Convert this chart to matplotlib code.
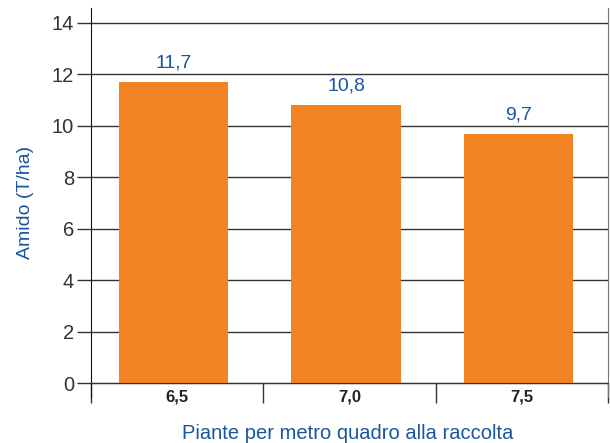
import matplotlib
matplotlib.use("Agg")
import matplotlib.pyplot as plt
from matplotlib import font_manager

# data
densita = ["6,5", "7,0", "7,5"]
amido = [11.7, 10.8, 9.7]
valori_txt = ["11,7", "10,8", "9,7"]
y_ticks = [0, 2, 4, 6, 8, 10, 12, 14]

names = {f.name for f in font_manager.fontManager.ttflist}
font = "Liberation Sans Narrow" if "Liberation Sans Narrow" in names else "Liberation Sans"
plt.rcParams['font.family'] = [font, 'DejaVu Sans']

arancio = '#f28322'
blu = '#1b55a0'
grigio = '#333333'

fig = plt.figure(figsize=(6.10, 4.43), dpi=100)
ax = fig.add_axes([0.149, 0.1038, 0.848, 0.878])

x = [i - 0.02 for i in range(len(densita))]
ax.bar(x, amido, width=0.635, color=arancio, zorder=2)

for xi, v, t in zip(x, amido, valori_txt):
    ax.text(xi, v + 0.4, t, ha='center', va='bottom', color=blu, fontsize=14)

ax.set_xlim(-0.5, len(densita) - 0.5)
ax.set_ylim(-0.545, 14.58)

ax.set_yticks(y_ticks)
ax.set_yticklabels([str(v) for v in y_ticks], fontsize=14.5, color='#333333')
ax.tick_params(axis='y', length=10, width=1, color=grigio, pad=2)
ax.yaxis.grid(True, color=grigio, linewidth=1)
ax.set_axisbelow(True)

# bottom axis line at zero, separators between categories
ax.spines['bottom'].set_position(('data', 0))
ax.spines['bottom'].set_color(grigio)
ax.spines['top'].set_visible(False)
ax.spines['left'].set_color('#111111')
ax.spines['right'].set_color('#777777')
ax.set_xticks([i - 0.5 for i in range(len(densita) + 1)])
ax.set_xticklabels([])
ax.tick_params(axis='x', which='major', length=14.5, width=1, color=grigio)
ax.set_xticks(range(len(densita)), minor=True)
ax.set_xticklabels(densita, minor=True, fontsize=12, fontweight='bold', color='#222222')
ax.tick_params(axis='x', which='minor', length=0, pad=5)

ax.set_ylabel("Amido (T/ha)", color=blu, fontsize=14, labelpad=13)
fig.text(0.57, 0.022, "Piante per metro quadro alla raccolta", color=blu,
         fontsize=14.5, ha='center', va='center')

fig.savefig("out.png", dpi=100)
